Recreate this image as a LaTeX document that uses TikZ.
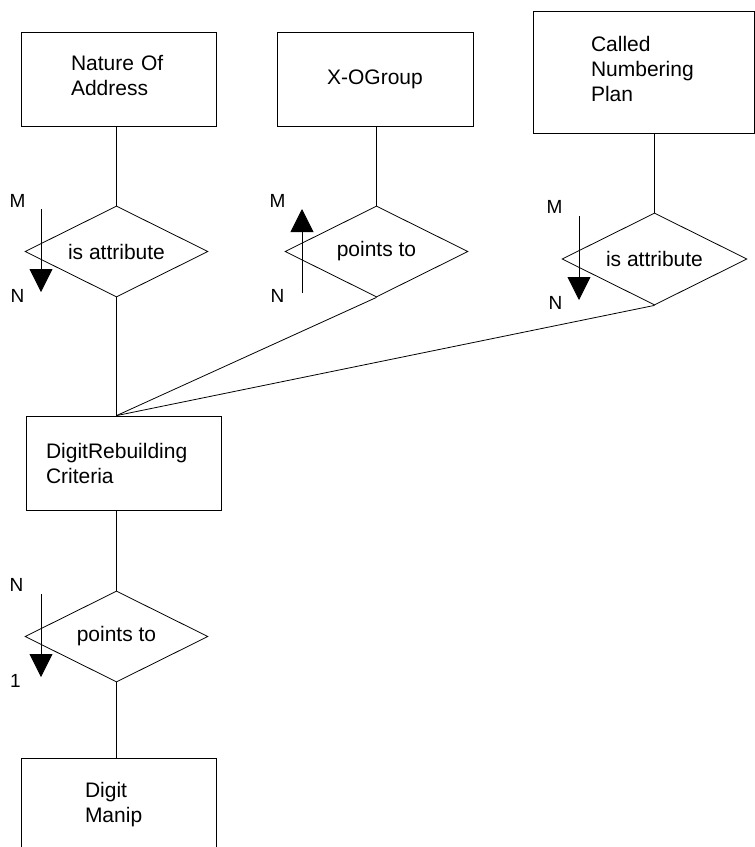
\documentclass[tikz,border=0pt]{standalone}
\usepackage{fontspec}
\setmainfont{Liberation Sans}
\usetikzlibrary{shapes.geometric,arrows.meta}

\tikzset{
  entity/.style={draw, line width=0.8pt, rectangle, inner ysep=0pt,
    font=\fontsize{21}{25}\selectfont, align=left},
  relation/.style={draw, line width=0.8pt, diamond, aspect=2, inner sep=0pt,
    font=\fontsize{21}{25}\selectfont},
  link/.style={line width=0.8pt},
  card/.style={inner sep=0pt, font=\fontsize{19}{22}\selectfont},
  cardarrow/.style={line width=0.8pt, -{Triangle[length=23pt,width=23pt]}},
}

\begin{document}
\begin{tikzpicture}[x=1pt,y=-1pt]
  \clip (0,0) rectangle (755,847);

  % entities
  \node[entity, minimum width=195, minimum height=94, inner xsep=50, text width=95]
    (noa) at (118.5,79) {Nature Of\\Address\vspace{7pt}};
  \node[entity, minimum width=196, minimum height=94]
    (xog) at (375,79) {X-OGroup};
  \node[entity, minimum width=221, minimum height=122, inner xsep=58, text width=105]
    (cnp) at (643.5,72) {Called\\Numbering\\Plan\vspace{7pt}};
  \node[entity, minimum width=195, minimum height=94, inner xsep=20, text width=155]
    (drc) at (123.5,463) {DigitRebuilding\\Criteria};
  \node[entity, minimum width=195, minimum height=94, inner xsep=64, text width=67]
    (dm) at (118.5,805) {Digit\\Manip};

  % relationships
  \node[relation, minimum width=183, minimum height=91] (r1) at (116.5,251.5) {is attribute};
  \node[relation, minimum width=183, minimum height=91] (r2) at (376.5,251.5) {points to};
  \node[relation, minimum width=185, minimum height=92] (r3) at (654.5,259) {is attribute};
  \node[relation, minimum width=183, minimum height=91] (r4) at (116.5,636.5) {points to};

  % connectors
  \coordinate (hub) at (r1.south |- drc.north);
  \draw[link] (r1.north |- noa.south) -- (r1.north);
  \draw[link] (r2.north |- xog.south) -- (r2.north);
  \draw[link] (r3.north |- cnp.south) -- (r3.north);
  \draw[link] (r1.south) -- (hub);
  \draw[link] (r2.south) -- (hub);
  \draw[link] (r3.south) -- (hub);
  \draw[link] (r4.north |- drc.south) -- (r4.north);
  \draw[link] (r4.south) -- (r4.south |- dm.north);

  % cardinality arrows
  \coordinate (a1s) at (41,209);  \coordinate (a1e) at (41,292);
  \coordinate (a2s) at (302,293); \coordinate (a2e) at (302,209);
  \coordinate (a3s) at (579,216); \coordinate (a3e) at (579,300);
  \coordinate (a4s) at (41,594);  \coordinate (a4e) at (41,677);
  \draw[cardarrow] (a1s) -- (a1e);
  \draw[cardarrow] (a2s) -- (a2e);
  \draw[cardarrow] (a3s) -- (a3e);
  \draw[cardarrow] (a4s) -- (a4e);

  % cardinality labels
  \node[card] (m1) at (17.5,201) {M};
  \node[card] (n1) at (17.5,295.5) {N};
  \node[card] (m2) at (277.5,201) {M};
  \node[card] (n2) at (277.5,295.5) {N};
  \node[card] (m3) at (554.5,206.5) {M};
  \node[card] (n3) at (555.5,303) {N};
  \node[card] (n4) at (16.5,585) {N};
  \node[card] (one4) at (15.5,681) {1};
\end{tikzpicture}
\end{document}
